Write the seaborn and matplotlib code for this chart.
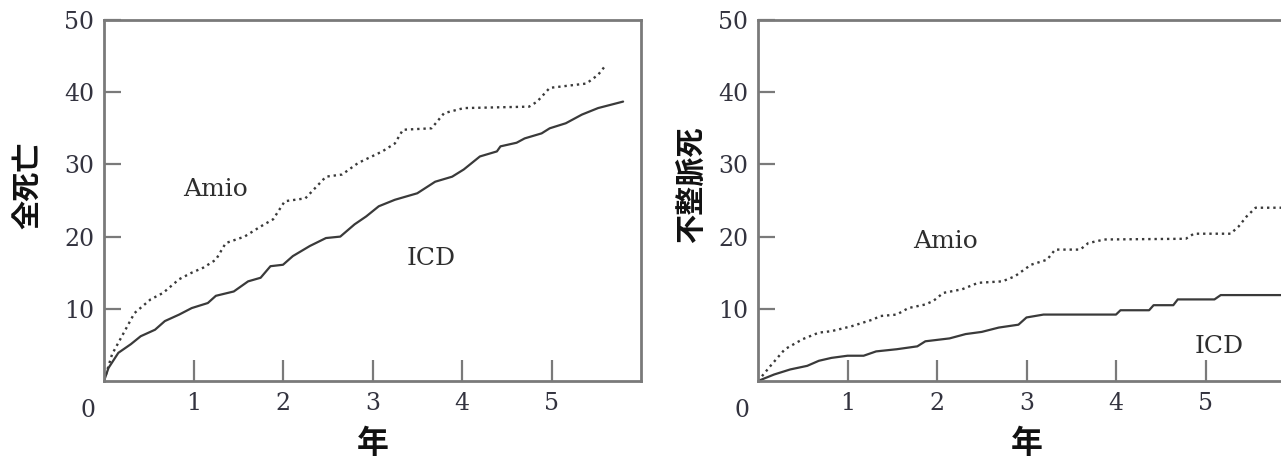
import numpy as np
import pandas as pd
import matplotlib
matplotlib.use('Agg')
import matplotlib.pyplot as plt
import seaborn as sns

# Left panel: total mortality (%) vs years
all_amio_years = [0, 0.09, 0.2, 0.34, 0.52, 0.66, 0.84, 0.98, 1.11, 1.25, 1.36, 1.57, 1.75, 1.89,
                  2.02, 2.25, 2.48, 2.66, 2.84, 3.11, 3.25, 3.34, 3.66, 3.8, 4.02, 4.75, 4.84,
                  4.98, 5.39, 5.52, 5.61]
all_amio_vals = [0, 3.7, 6.2, 9.4, 11.3, 12.2, 14.1, 15.0, 15.7, 16.8, 19.1, 20.0, 21.4, 22.4,
                 24.9, 25.3, 28.3, 28.6, 30.2, 31.8, 32.9, 34.8, 35.0, 37.1, 37.8, 38.0, 38.7,
                 40.6, 41.2, 42.4, 43.8]
all_icd_years = [0, 0.05, 0.16, 0.3, 0.41, 0.57, 0.68, 0.84, 0.98, 1.16, 1.25, 1.45, 1.61, 1.75,
                 1.86, 2.0, 2.11, 2.3, 2.48, 2.64, 2.8, 2.93, 3.07, 3.25, 3.5, 3.7, 3.89, 4.02,
                 4.2, 4.39, 4.43, 4.61, 4.7, 4.89, 4.98, 5.16, 5.34, 5.52, 5.8]
all_icd_vals = [0, 1.8, 3.9, 5.1, 6.2, 7.1, 8.3, 9.2, 10.1, 10.8, 11.8, 12.4, 13.8, 14.3,
                15.9, 16.1, 17.3, 18.7, 19.8, 20.0, 21.7, 22.8, 24.2, 25.1, 26.0, 27.6, 28.3, 29.3,
                31.1, 31.8, 32.5, 33.0, 33.6, 34.3, 35.0, 35.7, 36.9, 37.8, 38.7]

# Right panel: arrhythmic death (%) vs years
arr_amio_years = [0, 0.14, 0.3, 0.5, 0.68, 0.82, 1.05, 1.28, 1.37, 1.55, 1.68, 1.87, 1.96, 2.07,
                  2.28, 2.46, 2.73, 2.87, 3.05, 3.23, 3.32, 3.6, 3.69, 3.87, 4.78, 4.87, 5.28,
                  5.37, 5.46, 5.56, 5.95]
arr_amio_vals = [0, 2.1, 4.4, 5.8, 6.7, 6.9, 7.6, 8.5, 9.0, 9.2, 10.1, 10.6, 11.1, 12.2,
                 12.7, 13.6, 13.8, 14.5, 16.1, 16.8, 18.2, 18.2, 19.1, 19.6, 19.7, 20.4, 20.4,
                 21.4, 22.8, 24.0, 24.0]
arr_icd_years = [0, 0.18, 0.36, 0.55, 0.68, 0.82, 1.0, 1.18, 1.32, 1.55, 1.78, 1.87, 2.14, 2.32,
                 2.5, 2.69, 2.91, 3.0, 3.19, 4.0, 4.05, 4.37, 4.42, 4.64, 4.69, 5.1, 5.17, 5.95]
arr_icd_vals = [0, 0.9, 1.6, 2.1, 2.8, 3.2, 3.5, 3.5, 4.1, 4.4, 4.8, 5.5, 5.9, 6.5,
                6.8, 7.4, 7.8, 8.8, 9.2, 9.2, 9.8, 9.8, 10.5, 10.5, 11.3, 11.3, 11.9, 11.9]

x_ticks = [1, 2, 3, 4, 5]
y_ticks = [10, 20, 30, 40, 50]
ylabels = ['全死亡', '不整脈死']
xlabel = '年'

sns.set_theme(style='white')
plt.rcParams['font.family'] = ['DejaVu Serif']
cjk = ['Noto Sans CJK JP', 'DejaVu Sans']

line_col = '#3a3a3a'
spine_col = '#7a7a7a'
tick_col = '#33333f'

fig = plt.figure(figsize=(12.81, 4.65), dpi=100)
W, H = 1281, 465
ax1 = fig.add_axes([104 / W, (H - 381) / H, 537 / W, 361 / H])
ax2 = fig.add_axes([758 / W, (H - 381) / H, 537 / W, 361 / H])

panels = [
    (ax1, all_amio_years, all_amio_vals, all_icd_years, all_icd_vals,
     (1.25, 26.5), (3.66, 17.0), ylabels[0], (-0.115, 0.543)),
    (ax2, arr_amio_years, arr_amio_vals, arr_icd_years, arr_icd_vals,
     (2.09, 19.3), (5.15, 4.8), ylabels[1], (-0.095, 0.543)),
]

for ax, ay, av, iy, iv, amio_pos, icd_pos, ylab, ylab_pos in panels:
    df_a = pd.DataFrame({'year': ay, 'pct': av})
    df_i = pd.DataFrame({'year': iy, 'pct': iv})
    sns.lineplot(data=df_a, x='year', y='pct', ax=ax, color=line_col, linestyle=':',
                 linewidth=1.7, sort=False)
    sns.lineplot(data=df_i, x='year', y='pct', ax=ax, color=line_col, linestyle='-',
                 linewidth=1.6, sort=False)

    ax.set_xlim(0, 6)
    ax.set_ylim(0, 50)
    ax.set_xticks(x_ticks)
    ax.set_yticks(y_ticks)
    ax.tick_params(axis='x', direction='in', length=15, width=1.6, color=spine_col,
                   labelsize=17, labelcolor=tick_col, pad=8, bottom=True)
    ax.tick_params(axis='y', direction='in', length=12, width=1.6, color=spine_col,
                   labelsize=17, labelcolor=tick_col, pad=7, left=True)
    for s in ax.spines.values():
        s.set_color(spine_col)
        s.set_linewidth(2.0)

    # corner "0" label shared by both axes
    ax.annotate('0', xy=(0, 0), xycoords='data', xytext=(-16, -29),
                textcoords='offset pixels', ha='center', va='center',
                fontsize=17, color=tick_col)

    ax.text(*amio_pos, 'Amio', ha='center', va='center', fontsize=18, color='#2e2e2e')
    ax.text(*icd_pos, 'ICD', ha='center', va='center', fontsize=18, color='#2e2e2e')

    ax.set_xlabel(xlabel, family=cjk, fontweight='bold', fontsize=23, color='#111111')
    ax.xaxis.set_label_coords(0.5, -0.13)
    ax.set_ylabel(ylab, family=cjk, fontweight='bold', fontsize=21, color='#111111')
    ax.yaxis.set_label_coords(*ylab_pos)

fig.savefig('out.png', dpi=100)
